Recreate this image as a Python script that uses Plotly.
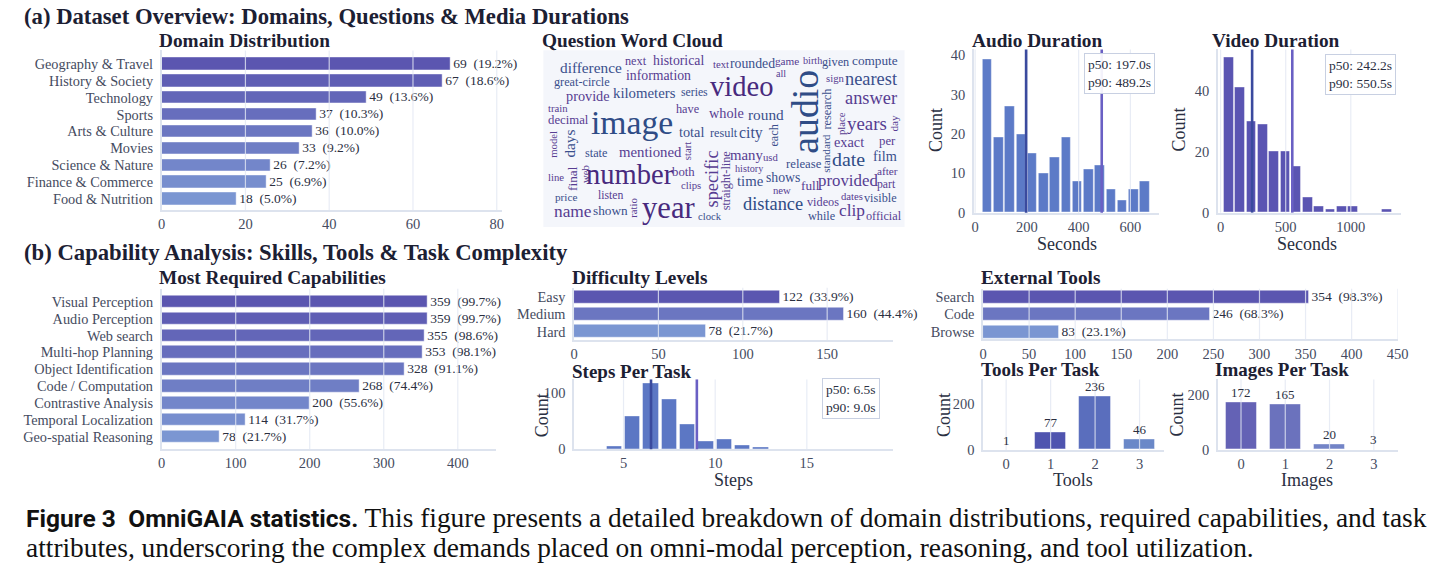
import plotly.graph_objects as go

# ---------------- data ----------------
N_TASKS = 360

DOMAINS = ["Geography & Travel", "History & Society", "Technology", "Sports", "Arts & Culture",
           "Movies", "Science & Nature", "Finance & Commerce", "Food & Nutrition"]
DOMAIN_COUNTS = [69, 67, 49, 37, 36, 33, 26, 25, 18]

CAPABILITIES = ["Visual Perception", "Audio Perception", "Web search", "Multi-hop Planning",
                "Object Identification", "Code / Computation", "Contrastive Analysis",
                "Temporal Localization", "Geo-spatial Reasoning"]
CAP_COUNTS = [359, 359, 355, 353, 328, 268, 200, 114, 78]

DIFFICULTY = ["Easy", "Medium", "Hard"]
DIFF_COUNTS = [122, 160, 78]

EXT_TOOLS = ["Search", "Code", "Browse"]
EXT_TOOL_COUNTS = [354, 246, 83]

TOOLS_PER_TASK = [0, 1, 2, 3]
TOOLS_PER_TASK_COUNTS = [1, 77, 236, 46]

IMAGES_PER_TASK = [0, 1, 2, 3]
IMAGES_PER_TASK_COUNTS = [172, 165, 20, 3]

AUDIO_BIN_START, AUDIO_BIN_WIDTH = 25.5, 43.5
AUDIO_COUNTS = [39, 19, 27, 20, 15, 10, 14, 19, 8, 11, 12, 6, 3, 6, 8]
AUDIO_P50, AUDIO_P90 = 197.0, 489.2

VIDEO_BIN_START, VIDEO_BIN_WIDTH = 20.5, 86.7
VIDEO_COUNTS = [51, 41, 30, 29, 20, 20, 15, 5, 2, 1, 2, 2, 0, 0, 1]
VIDEO_P50, VIDEO_P90 = 242.2, 550.5

STEPS_BIN_START, STEPS_BIN_WIDTH = 4, 1
STEPS_COUNTS = [5, 57, 116, 87, 44, 14, 17, 7, 4]
STEPS_P50, STEPS_P90 = 6.5, 9.0

WC_WORDS = ["difference", "next", "historical", "information", "text", "rounded", "game", "birth",
            "given", "compute", "all", "sign", "nearest", "great-circle", "video", "audio",
            "provide", "kilometers", "series", "research", "answer", "train", "have", "whole",
            "round", "image", "decimal", "place", "day", "years", "total", "result", "city",
            "each", "model", "days", "exact", "per", "standard", "state", "mentioned", "start",
            "many", "usd", "date", "film", "release", "history", "specific", "straight-line",
            "line", "final", "web", "number", "both", "after", "time", "shows", "provided",
            "full", "part", "clips", "new", "price", "listen", "dates", "visible", "ratio",
            "name", "shown", "year", "distance", "videos", "clip", "clock", "while", "official"]
WC_WEIGHT = [15, 12, 13.5, 13.5, 10.5, 13.5, 11, 10, 12, 13, 10, 10.5, 18, 12, 28, 37,
             14, 14.5, 11.5, 12, 18, 10.5, 12, 14, 15, 33, 12.5, 10.5, 11, 18.5, 14, 12, 15.5,
             12, 10.5, 15, 14, 12.5, 11, 12, 14.5, 10.5, 14.5, 10.5, 19.5, 14, 12.5, 10, 18, 12,
             10.5, 13, 10.5, 28, 12.5, 11, 14.5, 13.5, 16.5, 13, 11.5, 10.5, 10.5, 11, 11.5,
             10.5, 12, 10.5, 17, 13, 30, 18, 12, 17, 10.5, 12, 12]

# word-cloud layout (pixel centre x, y, rotation, colour key) - style only
WC_LAYOUT = [(593, 67, 0, "B"), (639, 60, 0, "P"), (682, 60, 0, "P"), (661, 75, 0, "P"),
             (725, 63, 0, "P"), (756, 63, 0, "B"), (791, 60, 0, "P"), (817, 60, 0, "P"),
             (840, 61, 0, "B"), (880, 60, 0, "B"), (785, 73, 0, "P"), (840, 77, 0, "P"),
             (876, 78, 0, "B"), (584, 81, 0, "B"), (745, 86, 0, "V"), (809, 112, -90, "D"),
             (590, 96, 0, "P"), (647, 93, 0, "B"), (698, 92, 0, "B"), (832, 109, -90, "B"),
             (876, 98, 0, "P"), (560, 108, 0, "P"), (691, 109, 0, "P"), (730, 113, 0, "P"),
             (770, 114, 0, "B"), (635, 123, 0, "D"), (570, 120, 0, "P"), (846, 124, -90, "P"),
             (899, 123, -90, "P"), (872, 124, 0, "P"), (695, 132, 0, "B"), (728, 133, 0, "B"),
             (755, 133, 0, "B"), (778, 136, -90, "B"), (554, 145, -90, "P"), (571, 144, -90, "B"),
             (854, 142, 0, "P"), (893, 141, 0, "P"), (831, 154, -90, "B"), (598, 154, 0, "B"),
             (653, 153, 0, "P"), (691, 152, -90, "P"), (750, 156, 0, "P"), (775, 158, 0, "P"),
             (853, 160, 0, "D"), (890, 157, 0, "B"), (808, 165, 0, "B"), (753, 169, 0, "P"),
             (715, 180, -90, "P"), (729, 182, -90, "P"), (558, 178, 0, "P"), (575, 180, -90, "P"),
             (587, 175, -90, "P"), (633, 175, 0, "V"), (687, 173, 0, "P"), (893, 172, 0, "P"),
             (754, 182, 0, "B"), (787, 179, 0, "B"), (853, 182, 0, "P"), (815, 187, 0, "P"),
             (892, 186, 0, "P"), (694, 186, 0, "P"), (786, 191, 0, "P"), (568, 198, 0, "B"),
             (613, 197, 0, "P"), (857, 197, 0, "P"), (886, 199, 0, "B"), (636, 209, -90, "P"),
             (575, 213, 0, "P"), (613, 212, 0, "B"), (671, 210, 0, "V"), (777, 206, 0, "D"),
             (828, 203, 0, "P"), (857, 212, 0, "P"), (713, 218, 0, "B"), (826, 218, 0, "B"),
             (889, 218, 0, "P")]
WC_COLORS = {"P": "#573d92", "B": "#3a4f8c", "V": "#482a7e", "D": "#2f4c86"}

# ---------------- helpers ----------------
W, H = 1447, 585
SERIF = "Liberation Serif"
TITLE_C = "#1c2033"
TICK_C = "#454b60"
GRID_C = "rgba(226,231,242,0.8)"
AXLINE_C = "#dde3ee"


def X(px):
    return px / W


def Y(py):
    return 1 - py / H


def blend(c1, c2, t):
    return "rgb(%d,%d,%d)" % tuple(round(a + (b - a) * t) for a, b in zip(c1, c2))


def grad(n, c1=(91, 86, 176), c2=(123, 150, 210)):
    return [blend(c1, c2, i / (n - 1)) for i in range(n)]


fig = go.Figure()
layout = dict(width=W, height=H, margin=dict(l=0, r=0, t=0, b=0), autosize=False,
              paper_bgcolor="white", plot_bgcolor="white", showlegend=False,
              font=dict(family=SERIF, color=TICK_C, size=14), bargap=0)
annotations = []
shapes = []


def set_axes(i, xdom, ydom, xaxis, yaxis):
    xs = "xaxis" if i == 1 else "xaxis%d" % i
    ys = "yaxis" if i == 1 else "yaxis%d" % i
    base = dict(showgrid=False, zeroline=False, showline=True, linecolor=AXLINE_C, linewidth=1.5,
                ticks="", tickfont=dict(size=14.5, color=TICK_C, family=SERIF), fixedrange=True)
    xa = dict(base, domain=[X(xdom[0]), X(xdom[1])], anchor="y%d" % i if i > 1 else "y")
    xa.update(xaxis)
    ya = dict(base, domain=[Y(ydom[1]), Y(ydom[0])], anchor="x%d" % i if i > 1 else "x")
    ya.update(yaxis)
    layout[xs] = xa
    layout[ys] = ya


def vgrid(i, vals):
    xr = "x" if i == 1 else "x%d" % i
    yr = "y domain" if i == 1 else "y%d domain" % i
    for v in vals:
        shapes.append(dict(type="line", xref=xr, yref=yr, x0=v, x1=v, y0=0, y1=1,
                           line=dict(color=GRID_C, width=1.2), layer="above"))


def title(txt, px, py, size=19.3):
    annotations.append(dict(text="<b>%s</b>" % txt, x=X(px - 3), y=Y(py), xref="paper", yref="paper",
                            xanchor="left", yanchor="middle", showarrow=False, borderpad=0,
                            font=dict(family=SERIF, size=size, color=TITLE_C)))


def axtitle(txt, px, py, angle=0, size=18):
    annotations.append(dict(text=txt, x=X(px), y=Y(py), xref="paper", yref="paper",
                            xanchor="center", yanchor="middle", showarrow=False, textangle=angle,
                            font=dict(family=SERIF, size=size, color="#2a2f42")))


def pbox(txt, px, py):
    annotations.append(dict(text=txt, x=X(px), y=Y(py), xref="paper", yref="paper",
                            xanchor="center", yanchor="middle", showarrow=False, align="left",
                            bgcolor="rgba(255,255,255,0.92)", bordercolor="#c8d0e2", borderwidth=1,
                            borderpad=3, font=dict(family=SERIF, size=13.5, color="#2a2f42")))


def hbar(i, cats, counts, xdom, ydom, xrange, dtick, yrange, colors):
    xr = "x" if i == 1 else "x%d" % i
    yr = "y" if i == 1 else "y%d" % i
    labels = ["%d\u2002(%.1f%%)" % (c, 100 * c / N_TASKS) for c in counts]
    fig.add_trace(go.Bar(x=counts, y=cats, orientation="h", xaxis=xr, yaxis=yr, width=0.74,
                         marker=dict(color=colors, line=dict(color="rgba(255,255,255,0.45)", width=1)),
                         text=labels, textposition="outside", cliponaxis=False, constraintext="none",
                         textfont=dict(family=SERIF, size=13.5, color="#2b2f3f")))
    set_axes(i, xdom, ydom,
             dict(range=xrange, dtick=dtick, tick0=0),
             dict(type="category", categoryorder="array", categoryarray=cats, range=yrange,
                  tickmode="array", tickvals=cats, ticktext=cats,
                  tickfont=dict(size=14.3, color=TICK_C, family=SERIF), ticklabelstandoff=4))
    t = 0
    ticks = []
    while t <= xrange[1] + 1e-9:
        ticks.append(t)
        t += dtick
    vgrid(i, ticks[1:])


def hist(i, start, width, counts, color, xdom, ydom, xrange, xdtick, yrange, ydtick, p50, p90,
         gridvals):
    xr = "x%d" % i
    yr = "y%d" % i
    centers = [start + width * (k + 0.5) for k in range(len(counts))]
    fig.add_trace(go.Bar(x=centers, y=counts, width=width * 0.84, xaxis=xr, yaxis=yr,
                         marker=dict(color=color, line=dict(color="rgba(255,255,255,0.4)", width=1))))
    set_axes(i, xdom, ydom, dict(range=xrange, dtick=xdtick, tick0=0),
             dict(range=yrange, dtick=ydtick, tick0=0, ticklabelstandoff=4))
    vgrid(i, gridvals)
    for v, c in ((p50, "#3a4a9e"), (p90, "#6a60c4")):
        shapes.append(dict(type="line", xref=xr, yref="%s domain" % yr, x0=v, x1=v, y0=0, y1=1,
                           line=dict(color=c, width=2.6), layer="above"))


def vbar(i, cats, counts, colors, xdom, ydom, yrange):
    xr = "x%d" % i
    yr = "y%d" % i
    fig.add_trace(go.Bar(x=cats, y=counts, width=0.7, xaxis=xr, yaxis=yr,
                         marker=dict(color=colors, line=dict(color="rgba(255,255,255,0.45)", width=1))))
    # value labels as annotations so they sit above the grid lines
    for c, v in zip(cats, counts):
        annotations.append(dict(text=str(v), x=c, y=v, xref=xr, yref=yr, showarrow=False,
                                xanchor="center", yanchor="bottom", yshift=1, borderpad=0,
                                font=dict(family=SERIF, size=13, color="#2b2f3f")))
    set_axes(i, xdom, ydom, dict(range=[-0.52, 3.54], tickvals=cats),
             dict(range=yrange, dtick=200, tick0=0, ticklabelstandoff=4))
    vgrid(i, cats)


# ---------------- panels ----------------
hbar(1, DOMAINS, DOMAIN_COUNTS, (159.3, 503), (49.3, 211.7), [0, 81.2], 20, [8.66, -0.8],
     grad(len(DOMAINS)))
hist(2, AUDIO_BIN_START, AUDIO_BIN_WIDTH, AUDIO_COUNTS, "#5c7ac7", (980, 1166.7), (48.3, 214.3),
     [-5, 709], 200, [0, 41.5], 10, AUDIO_P50, AUDIO_P90, [0, 200, 400, 600])
hist(3, VIDEO_BIN_START, VIDEO_BIN_WIDTH, VIDEO_COUNTS, "#5a54b2", (1226.7, 1411.7), (48.3, 214.3),
     [-20, 1386], 500, [0, 53.5], 20, VIDEO_P50, VIDEO_P90, [0, 500, 1000])
hbar(4, CAPABILITIES, CAP_COUNTS, (159.3, 496.7), (291.7, 455), [0, 451], 100, [8.74, -0.78],
     grad(len(CAPABILITIES)))
hbar(5, DIFFICULTY, DIFF_COUNTS, (576, 898.3), (290.7, 344), [0, 189], 50, [2.49, -0.53],
     grad(len(DIFFICULTY)))
hist(6, STEPS_BIN_START, STEPS_BIN_WIDTH, STEPS_COUNTS, "#5c77c4", (576, 898.3), (384, 455),
     [2.3, 19.7], 5, [0, 123], 100, STEPS_P50, STEPS_P90, [5, 10, 15])
hbar(7, EXT_TOOLS, EXT_TOOL_COUNTS, (989.3, 1408.3), (291.7, 343.3), [0, 450], 50, [2.43, -0.46],
     grad(len(EXT_TOOLS)))
vbar(8, TOOLS_PER_TASK, TOOLS_PER_TASK_COUNTS, ["#4a49a9", "#4f54af", "#5a6ebd", "#6a88c8"],
     (989.3, 1171.7), (384, 455.7), [0, 309])
vbar(9, IMAGES_PER_TASK, IMAGES_PER_TASK_COUNTS, ["#6462b5", "#6b72bd", "#7384c7", "#7b95d1"],
     (1226.7, 1408.3), (384, 455.7), [0, 255])

# word cloud (hidden axes in pixel units)
layout["xaxis10"] = dict(domain=[X(545), X(910)], range=[545, 910], visible=False, anchor="y10",
                         fixedrange=True)
layout["yaxis10"] = dict(domain=[Y(229), Y(49)], range=[229, 49], visible=False, anchor="x10",
                         fixedrange=True)
shapes.append(dict(type="rect", xref="paper", yref="paper", x0=X(545), x1=X(910), y0=Y(229),
                   y1=Y(49), fillcolor="#f4f6fb", line=dict(width=0), layer="below"))
for w, wt, (px, py, ang, ck) in zip(WC_WORDS, WC_WEIGHT, WC_LAYOUT):
    annotations.append(dict(text=w, x=px, y=py, xref="x10", yref="y10", showarrow=False,
                            xanchor="center", yanchor="middle", textangle=ang, borderpad=0,
                            font=dict(family=SERIF, size=wt * 1.02, color=WC_COLORS[ck])))

# titles
title("(a) Dataset Overview: Domains, Questions &amp; Media Durations", 22, 15, 22.7)
title("(b) Capability Analysis: Skills, Tools &amp; Task Complexity", 22, 255, 22.7)
title("Domain Distribution", 159, 39)
title("Question Word Cloud", 546, 39)
title("Audio Duration", 980, 39)
title("Video Duration", 1223, 39)
title("Most Required Capabilities", 159, 280)
title("Difficulty Levels", 576, 280)
title("Steps Per Task", 576, 375.5, 19)
title("External Tools", 989, 280)
title("Tools Per Task", 989, 374, 19)
title("Images Per Task", 1226, 374, 19)

# axis titles
axtitle("Count", 942, 130, -90)
axtitle("Seconds", 1074, 246)
axtitle("Count", 1187, 130, -90)
axtitle("Seconds", 1317, 246)
axtitle("Count", 543, 420, -90)
axtitle("Steps", 737, 486)
axtitle("Count", 950, 420, -90)
axtitle("Tools", 1080, 486)
axtitle("Count", 1185, 420, -90)
axtitle("Images", 1317, 486)

# percentile boxes
pbox("p50: %.1fs<br>p90: %.1fs" % (AUDIO_P50, AUDIO_P90), 1127, 72.5)
pbox("p50: %.1fs<br>p90: %.1fs" % (VIDEO_P50, VIDEO_P90), 1371, 73.5)
pbox("p50: %.1fs<br>p90: %.1fs" % (STEPS_P50, STEPS_P90), 855.5, 403.5)

# caption
cap1 = ('<span style="font-family:Roboto;font-weight:bold;font-size:24.5px">Figure 3\u2002OmniGAIA statistics.</span>'
        ' This figure presents a detailed breakdown of domain distributions, required capabilities, and task')
cap2 = 'attributes, underscoring the complex demands placed on omni-modal perception, reasoning, and tool utilization.'
for txt, py in ((cap1, 525), (cap2, 556)):
    annotations.append(dict(text=txt, x=X(20), y=Y(py), xref="paper", yref="paper", xanchor="left",
                            yanchor="middle", showarrow=False,
                            font=dict(family=SERIF, size=27.4, color="#111111")))

layout["annotations"] = annotations
layout["shapes"] = shapes
fig.update_layout(**layout)
fig.write_html("out.html")
